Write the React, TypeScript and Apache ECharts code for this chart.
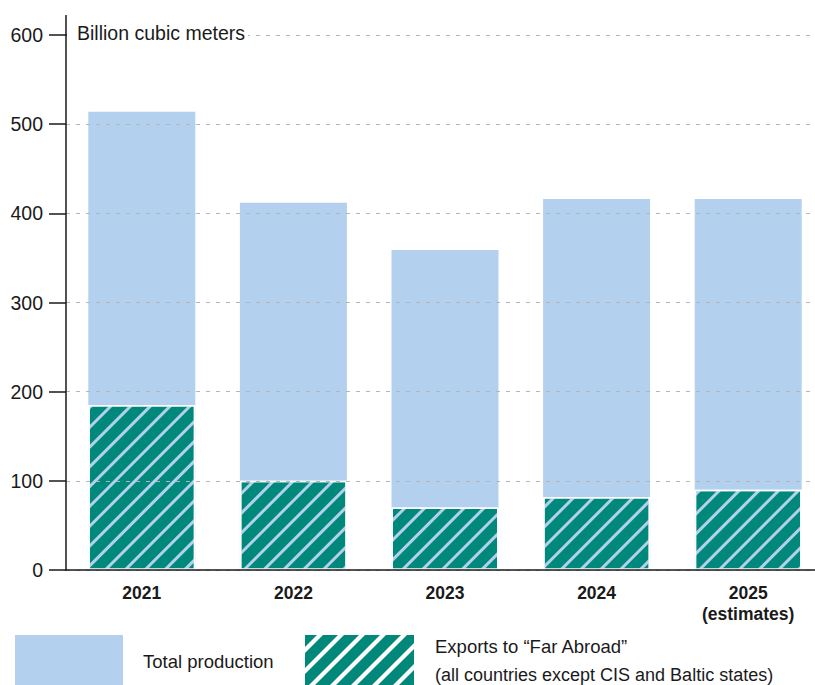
import React, { useEffect, useRef } from 'react';
import * as echarts from 'echarts';

const categories = ['2021', '2022', '2023', '2024', '2025\n(estimates)'];
const totalProduction = [514, 412, 359, 416, 416];
const exportsFarAbroad = [185, 100, 70, 82, 90];
const yMin = 0;
const yMax = 600;
const yInterval = 100;
const unitLabel = 'Billion cubic meters';
const legendTotal = 'Total production';
const legendExport1 = 'Exports to “Far Abroad”';
const legendExport2 = '(all countries except CIS and Baltic states)';

const FONT = '"Liberation Sans", Arial, sans-serif';
const BLUE = '#b3d0ee';
const TEAL = '#00897a';
const INK = '#1a1a1a';

type P = [number, number];

function clipHalf(poly: P[], f: (p: P) => number): P[] {
  const out: P[] = [];
  for (let i = 0; i < poly.length; i++) {
    const a = poly[i];
    const b = poly[(i + 1) % poly.length];
    const fa = f(a);
    const fb = f(b);
    if (fa >= 0) out.push(a);
    if ((fa >= 0) !== (fb >= 0)) {
      const t = fa / (fa - fb);
      out.push([a[0] + (b[0] - a[0]) * t, a[1] + (b[1] - a[1]) * t]);
    }
  }
  return out;
}

function stripes(x: number, y: number, w: number, h: number, period: number, width: number, offset: number) {
  const rect: P[] = [
    [x, y],
    [x + w, y],
    [x + w, y + h],
    [x, y + h],
  ];
  const res: any[] = [];
  const start = x + y + offset - period * 4;
  for (let c = start; c < x + w + y + h; c += period) {
    let poly = clipHalf(rect, (p) => p[0] + p[1] - c);
    poly = clipHalf(poly, (p) => c + width - (p[0] + p[1]));
    if (poly.length >= 3) {
      res.push({
        type: 'polygon',
        shape: { points: poly },
        style: { fill: '#ffffff' },
        z: 102,
      });
    }
  }
  return res;
}

export default function App() {
  const ref = useRef<HTMLDivElement>(null);
  useEffect(() => {
    if (!ref.current) return;
    const chart = echarts.init(ref.current, undefined, { renderer: 'svg' });
    const legendTeal = { x: 305, y: 635, w: 109, h: 52 };
    chart.setOption({
      animation: false,
      backgroundColor: '#ffffff',
      grid: { left: 66, right: 16, top: 35, bottom: 115, containLabel: false },
      xAxis: {
        type: 'category',
        data: categories,
        z: 10,
        axisLine: { show: true, lineStyle: { color: INK, width: 1.5 } },
        axisTick: { show: false },
        axisLabel: {
          margin: 12,
          fontFamily: FONT,
          fontWeight: 'bold',
          fontSize: 17.5,
          lineHeight: 21,
          color: INK,
          verticalAlign: 'top',
        },
      },
      yAxis: {
        type: 'value',
        min: yMin,
        max: yMax,
        interval: yInterval,
        z: 10,
        axisLine: { show: true, lineStyle: { color: INK, width: 1.5 } },
        axisTick: { show: true, length: 17, lineStyle: { color: INK, width: 1.5 } },
        axisLabel: {
          margin: 23,
          fontFamily: FONT,
          fontSize: 19.5,
          color: INK,
        },
        splitLine: {
          show: true,
          lineStyle: { color: '#b5b5b5', width: 1, type: [4, 6] },
        },
      },
      series: [
        {
          name: legendTotal,
          type: 'bar',
          data: totalProduction,
          barWidth: 107,
          barGap: '-100%',
          itemStyle: { color: BLUE },
          z: 2,
        },
        {
          name: legendExport1,
          type: 'bar',
          data: exportsFarAbroad,
          barWidth: 107,
          barGap: '-100%',
          itemStyle: {
            color: TEAL,
            borderColor: '#ffffff',
            borderWidth: 1.5,
            decal: {
              symbol: 'rect',
              symbolSize: 1,
              color: BLUE,
              dashArrayX: [1, 0],
              dashArrayY: [3, 10.5],
              rotation: -Math.PI / 4,
            },
          },
          z: 3,
        },
      ],
      graphic: [
        {
          type: 'line',
          shape: { x1: 66, y1: 15, x2: 66, y2: 36 },
          style: { stroke: INK, lineWidth: 1.5 },
          z: 100,
        },
        {
          type: 'rect',
          shape: { x: 67, y: 20, width: 181, height: 28 },
          style: { fill: '#ffffff' },
          z: 100,
        },
        {
          type: 'text',
          x: 77,
          y: 33,
          style: {
            text: unitLabel,
            fontFamily: FONT,
            fontSize: 19.5,
            fill: INK,
            verticalAlign: 'middle',
          },
          z: 101,
        },
        {
          type: 'rect',
          shape: { x: 15, y: 635, width: 108, height: 52 },
          style: { fill: BLUE },
          z: 100,
        },
        {
          type: 'text',
          x: 143,
          y: 661,
          style: {
            text: legendTotal,
            fontFamily: FONT,
            fontSize: 18.5,
            fill: INK,
            verticalAlign: 'middle',
          },
          z: 101,
        },
        {
          type: 'rect',
          shape: { x: legendTeal.x, y: legendTeal.y, width: legendTeal.w, height: legendTeal.h },
          style: { fill: TEAL },
          z: 100,
        },
        ...stripes(legendTeal.x, legendTeal.y, legendTeal.w, legendTeal.h, 21, 6, 12),
        {
          type: 'text',
          x: 435,
          y: 646,
          style: {
            text: legendExport1,
            fontFamily: FONT,
            fontSize: 18.5,
            fill: INK,
            verticalAlign: 'middle',
          },
          z: 101,
        },
        {
          type: 'text',
          x: 435,
          y: 675,
          style: {
            text: legendExport2,
            fontFamily: FONT,
            fontSize: 18,
            fill: INK,
            verticalAlign: 'middle',
          },
          z: 101,
        },
      ],
    });
    return () => chart.dispose();
  }, []);
  return (
    <div style={{ position: 'fixed', left: 0, top: 0, width: 815, height: 685, overflow: 'hidden', background: '#fff' }}>
      <div ref={ref} style={{ width: 840, height: 685 }} />
    </div>
  );
}
